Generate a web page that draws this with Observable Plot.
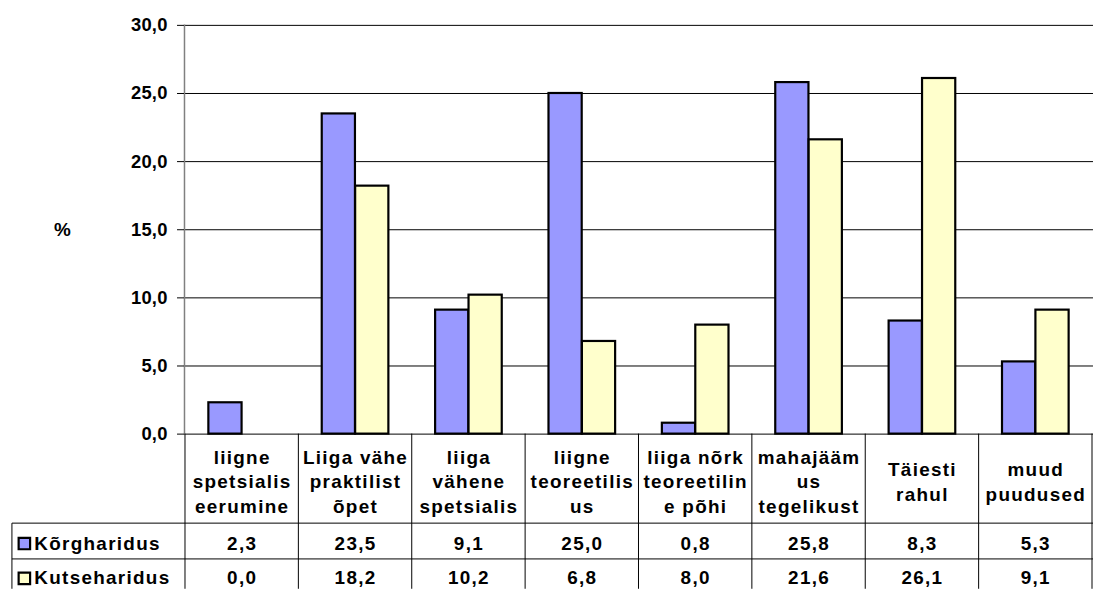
<!DOCTYPE html>
<html>
<head>
<meta charset="utf-8">
<script src="https://cdn.jsdelivr.net/npm/d3@7"></script>
<script src="https://cdn.jsdelivr.net/npm/@observablehq/plot@0.6"></script>
<style>
  html, body { margin: 0; padding: 0; background: #fff; overflow: hidden; }
  #chart svg { display: block; }
  #chart g[aria-label="text"] text { letter-spacing: 1.3px; }
  #chart g[aria-label="y-axis tick label"] text { letter-spacing: 0.2px; }
</style>
</head>
<body>
<div id="chart"></div>
<script>
// ---- Data ----
const categories = [
  "liigne\nspetsialis\neerumine",
  "Liiga vähe\npraktilist\nõpet",
  "liiga\nvähene\nspetsialis",
  "liigne\nteoreetilis\nus",
  "liiga nõrk\nteoreetilin\ne põhi",
  "mahajääm\nus\ntegelikust",
  "Täiesti\nrahul",
  "muud\npuudused"
];
const series = ["Kõrgharidus", "Kutseharidus"];
const korgharidus = [2.3, 23.5, 9.1, 25.0, 0.8, 25.8, 8.3, 5.3];
const kutseharidus = [0.0, 18.2, 10.2, 6.8, 8.0, 21.6, 26.1, 9.1];
const yTicks = [0, 5, 10, 15, 20, 25, 30];
const yLabel = "%";

// ---- Styles ----
const colors = {"Kõrgharidus": "#9999FF", "Kutseharidus": "#FFFFCC"};
const FONT = "'Liberation Sans', Arial, sans-serif";
const fmt = v => d3.format(".1f")(v).replace(".", ",");

const rowsK = categories.map((c, i) => ({cat: c, value: korgharidus[i]}));
const rowsU = categories.map((c, i) => ({cat: c, value: kutseharidus[i]}));

const marginLeft = 185, marginTop = 25, marginBottom = 156, W = 1099, H = 592;
const headerH = 90, rowH = 36;

// custom mark drawing the data-table grid below the plot
function tableGrid(index, scales, values, dims) {
  const x = scales.x;
  const bw = typeof x.bandwidth === "function" ? x.bandwidth() : x.bandwidth;
  const bottom = dims.height - dims.marginBottom;
  const g = d3.create("svg:g").attr("stroke", "#000").attr("stroke-width", 1).attr("fill", "none");
  const xs = categories.map(c => x(c));
  xs.push(xs[xs.length - 1] + bw);
  for (const xv of xs) {
    g.append("line").attr("x1", xv).attr("x2", xv).attr("y1", bottom).attr("y2", dims.height);
  }
  const left = dims.marginLeft - 173;
  for (const yv of [bottom + headerH, bottom + headerH + rowH]) {
    g.append("line").attr("x1", left).attr("x2", dims.width).attr("y1", yv).attr("y2", yv);
  }
  g.append("line").attr("x1", left).attr("x2", left).attr("y1", bottom + headerH).attr("y2", dims.height);
  return g.node();
}

const textStyle = {fontFamily: FONT, fontWeight: "bold", fontSize: 19, fill: "#000"};

const chart = Plot.plot({
  width: W,
  height: H,
  marginLeft,
  marginRight: 0,
  marginTop,
  marginBottom,
  style: {fontFamily: FONT, background: "#fff", overflow: "visible"},
  x: {domain: categories, padding: 0, axis: null},
  y: {domain: [0, 30], axis: null},
  marks: [
    Plot.gridY(yTicks, {stroke: "#000", strokeOpacity: 1, strokeWidth: 1}),
    Plot.frame({anchor: "left", stroke: "#808080", strokeWidth: 1.5}),
    Plot.axisY(yTicks, {
      tickSize: 7, tickPadding: 10, tickFormat: fmt,
      fontSize: 18.5, fontWeight: "bold", fill: "#000", stroke: "#000", label: null
    }),
    Plot.text([yLabel], {frameAnchor: "left", dx: -122, text: d => d, textAnchor: "middle", ...textStyle}),
    Plot.barY(rowsK, {x: "cat", y: "value", fill: colors[series[0]], stroke: "#000", strokeWidth: 2.2, insetLeft: 23.5, insetRight: 57.1}),
    Plot.barY(rowsU, {x: "cat", y: "value", fill: colors[series[1]], stroke: "#000", strokeWidth: 2.2, insetLeft: 57.1, insetRight: 23.5}),
    tableGrid,
    Plot.text(categories, {x: d => d, text: d => d, frameAnchor: "bottom", dy: headerH / 2 + 1.5, lineAnchor: "middle", lineHeight: 1.3, ...textStyle}),
    Plot.text(rowsK, {x: "cat", text: d => fmt(d.value), frameAnchor: "bottom", dy: headerH + rowH / 2 + 2, lineAnchor: "middle", ...textStyle}),
    Plot.text(rowsU, {x: "cat", text: d => fmt(d.value), frameAnchor: "bottom", dy: headerH + rowH * 1.5 + 1, lineAnchor: "middle", ...textStyle}),
    Plot.dot([series[0]], {frameAnchor: "bottom-left", dx: -161, dy: headerH + rowH / 2 + 2, symbol: "square", r: 6.5, fill: colors[series[0]], stroke: "#000", strokeWidth: 2.2}),
    Plot.dot([series[1]], {frameAnchor: "bottom-left", dx: -161, dy: headerH + rowH * 1.5 + 1, symbol: "square", r: 6.5, fill: colors[series[1]], stroke: "#000", strokeWidth: 2.2}),
    Plot.text([series[0]], {frameAnchor: "bottom-left", dx: -151, dy: headerH + rowH / 2 + 2, text: d => d, textAnchor: "start", lineAnchor: "middle", ...textStyle}),
    Plot.text([series[1]], {frameAnchor: "bottom-left", dx: -151, dy: headerH + rowH * 1.5 + 1, text: d => d, textAnchor: "start", lineAnchor: "middle", ...textStyle})
  ]
});
document.getElementById("chart").appendChild(chart);
</script>
</body>
</html>
